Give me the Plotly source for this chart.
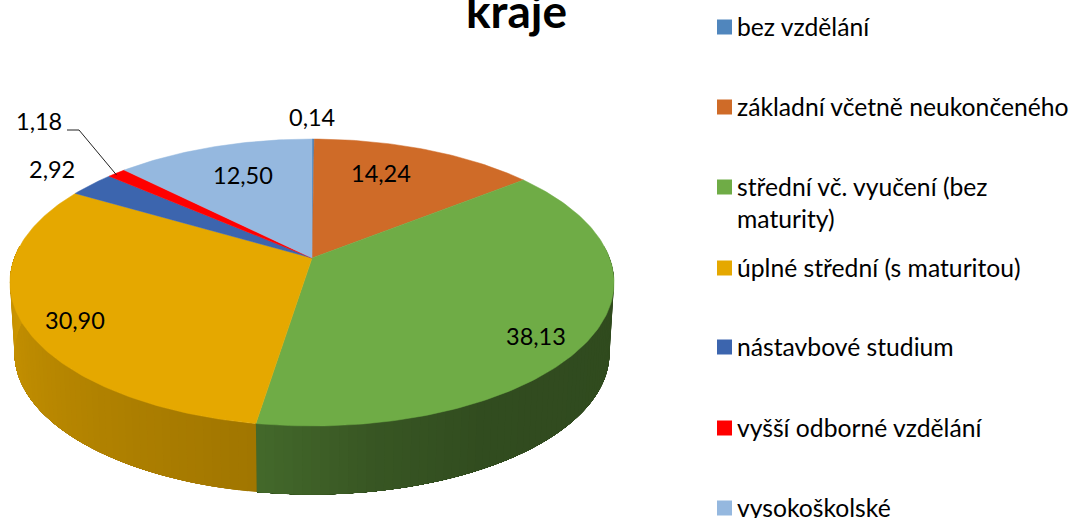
import numpy as np
import plotly.graph_objects as go

categories = ["bez vzdělání", "základní včetně neukončeného", "střední vč. vyučení (bez maturity)",
              "úplné střední (s maturitou)", "nástavbové studium", "vyšší odborné vzdělání", "vysokoškolské"]
values = [0.14, 14.24, 38.13, 30.90, 2.92, 1.18, 12.50]
value_labels = ["0,14", "14,24", "38,13", "30,90", "2,92", "1,18", "12,50"]
colors = ["#5086BD", "#CF6B28", "#6FAC46", "#E5A800", "#3C65AE", "#FF0000", "#95B8DF"]
title_text = "kraje"

# view of the tilted disc, in page pixels
CX, CY, A, B, K = 312.0, 258.0, 297.6, 139.3, 0.1708
BOTTOM_SCALE, DEPTH = 0.985, 71.0
FONT = "Lato"


def project(theta_deg, scale=1.0, dy=0.0):
    t = np.radians(np.asarray(theta_deg, dtype=float))
    u, v = np.sin(t), np.cos(t)
    d = 1 + K * v
    return CX + scale * A * u / d, CY + dy - scale * B * v / d


def rgb(hex_color, f):
    h = hex_color.lstrip("#")
    r, g, b = [int(h[i:i + 2], 16) for i in (0, 2, 4)]
    return f"rgb({r * f:.0f},{g * f:.0f},{b * f:.0f})"


shade_stops = {
    2: ([85, 150, 170, 189], [0.43, 0.44, 0.50, 0.61]),
    3: ([189, 230, 275], [0.70, 0.80, 0.90]),
}

fig = go.Figure()
edges = np.concatenate([[0], np.cumsum(values)]) * 3.6 / (sum(values) / 100)

# side wall: each band reaches to the end of the wall, the next one paints over it
for i in shade_stops:
    lo, hi = max(edges[i], 85), min(edges[i + 1], 275)
    steps = np.linspace(lo, hi, int((hi - lo) / 1.5) + 2)
    for a0, a1 in zip(steps[:-1], steps[1:]):
        ang = np.linspace(a0, hi, max(3, int((hi - a0) / 2)))
        x1, y1 = project(ang)
        x2, y2 = project(ang[::-1], BOTTOM_SCALE, DEPTH)
        c = rgb(colors[i], float(np.interp((a0 + a1) / 2, *shade_stops[i])))
        fig.add_trace(go.Scatter(x=np.r_[x1, x2], y=np.r_[y1, y2], mode="lines", fill="toself",
                                 fillcolor=c, line=dict(color=c, width=0), hoverinfo="skip", showlegend=False))

# top face
for i, name in enumerate(categories):
    ang = np.linspace(edges[i], edges[i + 1], max(3, int(values[i] * 4)))
    x, y = project(ang)
    fig.add_trace(go.Scatter(x=np.r_[CX, x, CX], y=np.r_[CY, y, CY], mode="lines", fill="toself", name=name,
                             fillcolor=colors[i], line=dict(color=colors[i], width=0.5),
                             hoverinfo="name", showlegend=False))

# leader line of the 1,18 label
mid = (edges[5] + edges[6]) / 2
ex, ey = project(mid)
fig.add_trace(go.Scatter(x=[67, 79, float(ex)], y=[130, 130, float(ey) + 2], mode="lines",
                         line=dict(color="#222222", width=1), hoverinfo="skip", showlegend=False))

# legend swatches
legend_y = [27, 107, 187, 268, 347, 428, 508]
fig.add_trace(go.Scatter(x=[724.5] * 7, y=legend_y, mode="markers",
                         marker=dict(symbol="square", size=15, color=colors, line=dict(width=0)),
                         hoverinfo="skip", showlegend=False))

annotations = []
label_xy = [(312, 117), (381, 173), (536, 336), (75, 320), (52, 169), (39, 121), (243, 175)]
for t, (x, y) in zip(value_labels, label_xy):
    annotations.append(dict(x=x, y=y, text=t, showarrow=False, xanchor="center", yanchor="middle",
                            font=dict(family=FONT, size=23.5, color="#000000")))
legend_text = [c.replace("(bez maturity)", "(bez<br>maturity)") for c in categories]
text_y = [26, 106, 202, 267, 346, 427, 507]
for t, y in zip(legend_text, text_y):
    annotations.append(dict(x=735, y=y, text=t, showarrow=False, xanchor="left", yanchor="middle", align="left",
                            font=dict(family=FONT, size=24.7, color="#000000")))
annotations.append(dict(x=516, y=10, text=title_text, showarrow=False, xanchor="center", yanchor="middle",
                        font=dict(family=FONT, size=46, color="#000000", weight="bold")))

fig.update_layout(
    width=1075, height=518, margin=dict(l=0, r=0, t=0, b=0), paper_bgcolor="white", plot_bgcolor="white",
    xaxis=dict(range=[0, 1075], visible=False, fixedrange=True),
    yaxis=dict(range=[518, 0], visible=False, fixedrange=True),
    annotations=annotations,
)
fig.write_html("out.html", config={"displayModeBar": False},
               post_script="document.body.style.margin='0';")
